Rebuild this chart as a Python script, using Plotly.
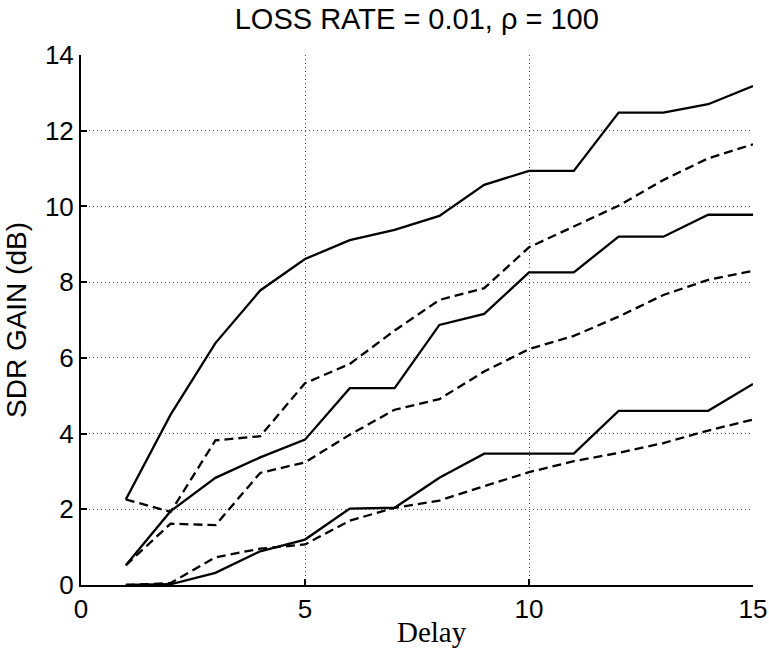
import plotly.graph_objects as go

delay = list(range(1, 16))

solid_high = [2.26, 4.5, 6.39, 7.78, 8.61, 9.11, 9.38, 9.75, 10.57, 10.94, 10.94, 12.48, 12.48, 12.70, 13.18]
dashed_high = [2.26, 1.93, 3.82, 3.93, 5.33, 5.84, 6.72, 7.53, 7.84, 8.92, 9.47, 10.02, 10.70, 11.27, 11.64]
solid_mid = [0.52, 1.95, 2.83, 3.37, 3.84, 5.20, 5.20, 6.87, 7.16, 8.26, 8.26, 9.20, 9.20, 9.78, 9.78]
dashed_mid = [0.52, 1.62, 1.58, 2.96, 3.24, 3.97, 4.63, 4.91, 5.64, 6.23, 6.58, 7.09, 7.66, 8.06, 8.30]
solid_low = [0.0, 0.02, 0.32, 0.89, 1.20, 2.02, 2.04, 2.83, 3.47, 3.47, 3.47, 4.60, 4.60, 4.60, 5.31]
dashed_low = [0.0, 0.05, 0.73, 0.96, 1.07, 1.70, 2.04, 2.23, 2.61, 2.98, 3.27, 3.49, 3.75, 4.08, 4.37]

x_ticks = [0, 5, 10, 15]
y_ticks = [0, 2, 4, 6, 8, 10, 12, 14]

fig = go.Figure()
series = [
    (solid_high, "solid"), (dashed_high, "9px,5px"),
    (solid_mid, "solid"), (dashed_mid, "9px,5px"),
    (solid_low, "solid"), (dashed_low, "9px,5px"),
]
for ys, dash in series:
    fig.add_trace(go.Scatter(x=delay, y=ys, mode="lines",
                             line=dict(color="black", width=2.3, dash=dash),
                             showlegend=False))

axis_common = dict(
    showline=True, linecolor="black", linewidth=2,
    ticks="inside", ticklen=6, tickwidth=1.5, tickcolor="black",
    showgrid=True, gridcolor="#555555", gridwidth=1, griddash="1px,3px",
    zeroline=False, automargin=False,
    tickfont=dict(family="Liberation Sans, Arial", size=26, color="black"),
)

fig.update_layout(
    width=769, height=654,
    paper_bgcolor="white", plot_bgcolor="white",
    margin=dict(l=81, r=16, t=55, b=69),
    title=dict(text="LOSS RATE = 0.01, ρ = 100", x=0.542, xanchor="center",
               y=0.9717, yanchor="middle",
               font=dict(family="Liberation Sans, Arial", size=29, color="black")),
    xaxis=dict(range=[0, 15], tickvals=x_ticks, **axis_common),
    yaxis=dict(range=[0, 14], tickvals=y_ticks,
               title=dict(text="SDR GAIN (dB)", standoff=10,
                          font=dict(family="Liberation Sans, Arial", size=28, color="black")),
               **axis_common),
    annotations=[dict(text="Delay", xref="paper", yref="paper", x=0.5226, y=0,
                      xanchor="center", yanchor="middle", yshift=-47, showarrow=False,
                      font=dict(family="Liberation Serif, Times New Roman", size=29, color="black"))],
)

fig.write_html("out.html", config={"displayModeBar": False},
               post_script="document.body.style.margin='0px';document.body.style.overflow='hidden';")
